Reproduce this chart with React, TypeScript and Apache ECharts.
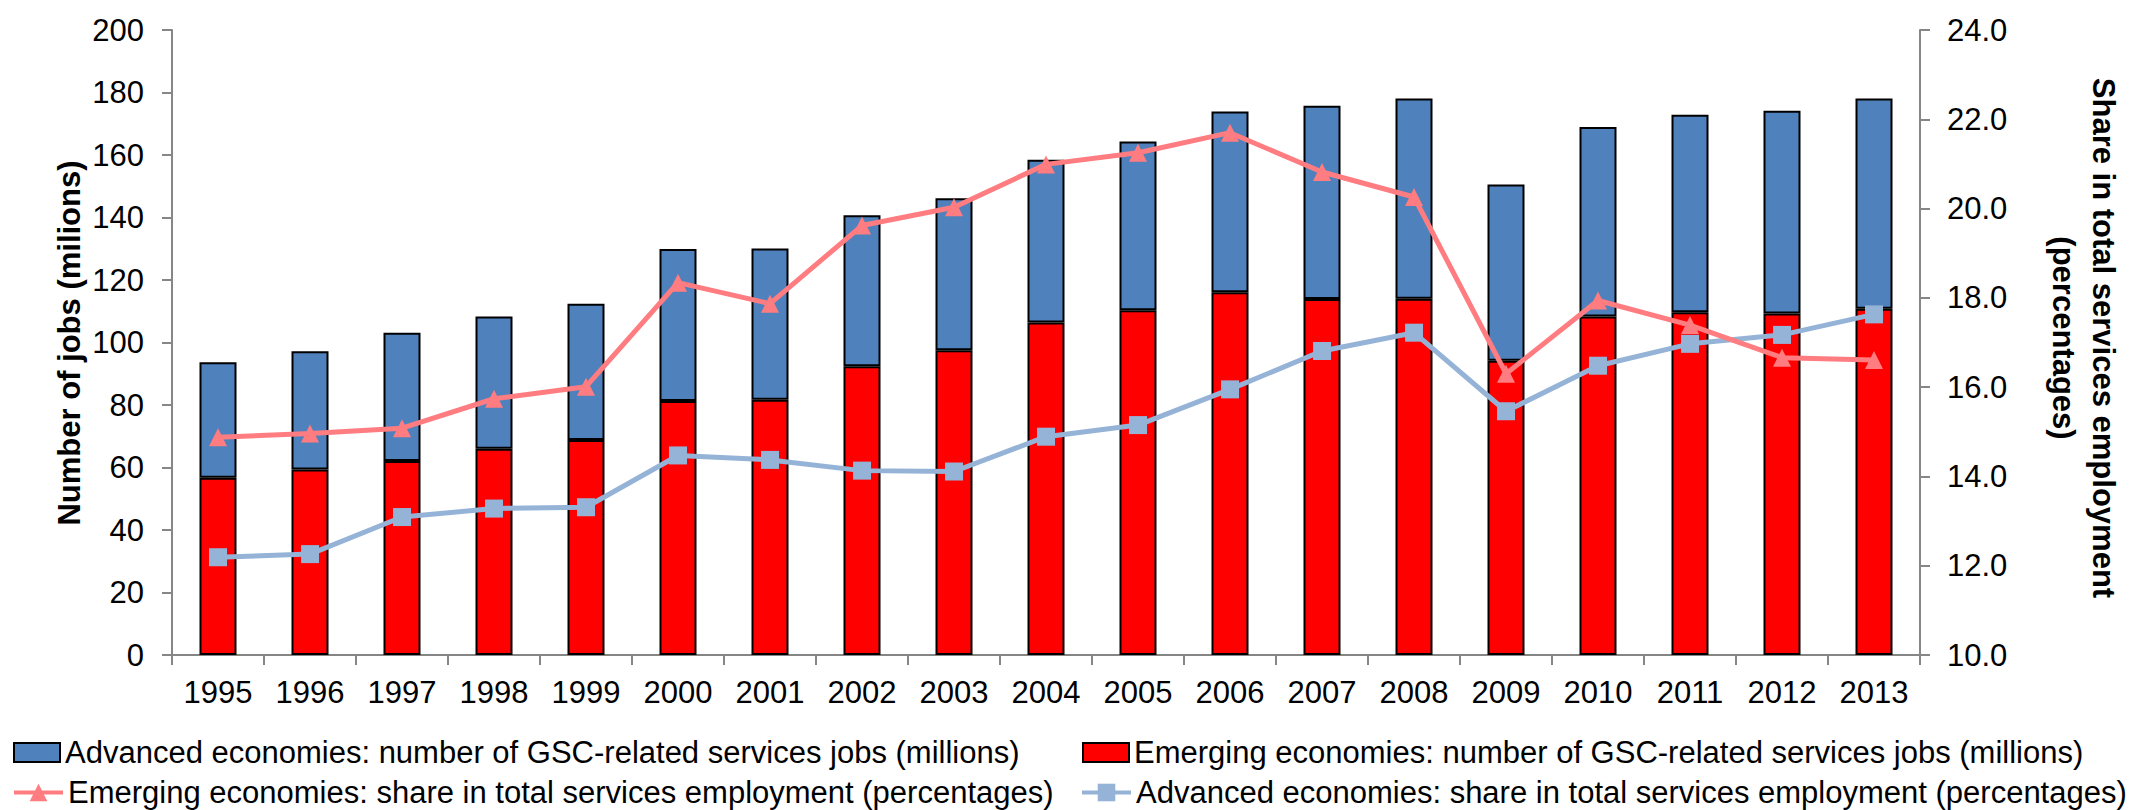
import React, { useEffect, useRef } from "react";
import * as echarts from "echarts";

const years = ["1995", "1996", "1997", "1998", "1999", "2000", "2001", "2002", "2003", "2004", "2005", "2006", "2007", "2008", "2009", "2010", "2011", "2012", "2013"];

const emergingJobs = [56.7, 59.4, 62.1, 66.0, 68.8, 81.3, 81.7, 92.4, 97.5, 106.4, 110.3, 116.1, 113.9, 114.0, 94.2, 108.3, 109.7, 109.3, 110.8];
const advancedJobs = [37.0, 37.8, 41.0, 42.3, 43.6, 48.6, 48.4, 48.3, 48.7, 52.1, 54.0, 57.8, 61.9, 64.1, 56.4, 60.7, 63.2, 64.9, 67.3];
const emergingShare = [14.88, 14.96, 15.08, 15.74, 16.01, 18.34, 17.87, 19.62, 20.03, 20.99, 21.25, 21.70, 20.82, 20.26, 16.30, 17.94, 17.39, 16.66, 16.61];
const advancedShare = [12.19, 12.26, 13.09, 13.28, 13.31, 14.47, 14.37, 14.13, 14.11, 14.89, 15.15, 15.95, 16.81, 17.22, 15.46, 16.48, 16.97, 17.17, 17.63];

const nameAdvJobs = "Advanced economies: number of GSC-related services jobs (millions)";
const nameEmJobs = "Emerging economies: number of GSC-related services jobs (millions)";
const nameEmShare = "Emerging economies: share in total services employment (percentages)";
const nameAdvShare = "Advanced economies: share in total services employment (percentages)";

const leftTitle = "Number of jobs (milions)";
const rightTitle1 = "Share in total services employment";
const rightTitle2 = "(percentages)";

const FONT = "Liberation Sans, Arial, sans-serif";

export default function App() {
  const ref = useRef<HTMLDivElement>(null);
  useEffect(() => {
    if (!ref.current) return;
    const chart = echarts.init(ref.current, undefined, { renderer: "svg" });
    const axisLine = { show: true, lineStyle: { color: "#868686", width: 2 } };
    const axisTick = { show: true, inside: false, length: 10, lineStyle: { color: "#868686", width: 2 } };
    const labelStyle = { color: "#000", fontSize: 31, fontFamily: FONT };
    const legendText = { color: "#000", fontSize: 31, fontFamily: FONT, lineHeight: 31 };
    const mkLegend = (name: string, left: number, top: number, isLine: boolean) => ({
      orient: "horizontal",
      left,
      top,
      padding: 0,
      itemWidth: isLine ? 49 : 46,
      itemHeight: isLine ? 22 : 19,
      lineStyle: isLine ? { width: 4 } : undefined,
      textStyle: legendText,
      data: isLine ? [name] : [{ name, icon: "rect" }],
    });
    chart.setOption({
      animation: false,
      backgroundColor: "#fff",
      textStyle: { fontFamily: FONT },
      grid: { left: 172, right: 225, top: 30, bottom: 155, containLabel: false },
      legend: [
        mkLegend(nameAdvJobs, 13, 737, false),
        mkLegend(nameEmShare, 12, 777, true),
        mkLegend(nameEmJobs, 1082, 737, false),
        mkLegend(nameAdvShare, 1080, 777, true),
      ],
      xAxis: {
        type: "category",
        data: years,
        boundaryGap: true,
        axisLine,
        axisTick,
        axisLabel: { ...labelStyle, margin: 22, interval: 0 },
        splitLine: { show: false },
      },
      yAxis: [
        {
          type: "value",
          min: 0,
          max: 200,
          interval: 20,
          axisLine,
          axisTick,
          axisLabel: { ...labelStyle, margin: 28 },
          splitLine: { show: false },
        },
        {
          type: "value",
          min: 10,
          max: 24,
          interval: 2,
          position: "right",
          axisLine,
          axisTick,
          axisLabel: { ...labelStyle, margin: 27, formatter: (v: number) => v.toFixed(1) },
          splitLine: { show: false },
        },
      ],
      graphic: [
        {
          type: "text",
          x: 69,
          y: 343,
          rotation: Math.PI / 2,
          style: {
            text: leftTitle,
            font: `bold 31px ${FONT}`,
            fill: "#000",
            align: "center",
            verticalAlign: "middle",
          },
        },
        {
          type: "text",
          x: 2103,
          y: 338,
          rotation: -Math.PI / 2,
          style: {
            text: rightTitle1,
            font: `bold 31px ${FONT}`,
            fill: "#000",
            align: "center",
            verticalAlign: "middle",
          },
        },
        {
          type: "text",
          x: 2063,
          y: 338,
          rotation: -Math.PI / 2,
          style: {
            text: rightTitle2,
            font: `bold 31px ${FONT}`,
            fill: "#000",
            align: "center",
            verticalAlign: "middle",
          },
        },
      ],
      series: [
        {
          name: nameEmJobs,
          type: "bar",
          stack: "jobs",
          barWidth: 37,
          data: emergingJobs,
          itemStyle: { color: "#FF0000", borderColor: "#000", borderWidth: 2 },
        },
        {
          name: nameAdvJobs,
          type: "bar",
          stack: "jobs",
          barWidth: 37,
          data: advancedJobs,
          itemStyle: { color: "#4F81BD", borderColor: "#000", borderWidth: 2 },
        },
        {
          name: nameAdvShare,
          type: "line",
          yAxisIndex: 1,
          data: advancedShare,
          symbol: "rect",
          symbolSize: 18,
          lineStyle: { color: "#95B3D7", width: 5 },
          itemStyle: { color: "#95B3D7" },
        },
        {
          name: nameEmShare,
          type: "line",
          yAxisIndex: 1,
          data: emergingShare,
          symbol: "triangle",
          symbolSize: 18,
          lineStyle: { color: "#FF7C80", width: 5 },
          itemStyle: { color: "#FF7C80" },
        },
      ],
    });
    return () => chart.dispose();
  }, []);
  return (
    <div
      ref={ref}
      style={{ position: "fixed", left: 0, top: 0, width: 2145, height: 810, background: "#fff" }}
    />
  );
}
